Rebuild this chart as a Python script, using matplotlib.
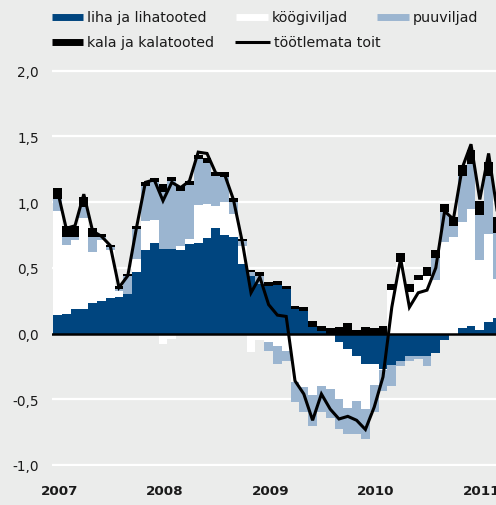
import matplotlib
matplotlib.use("Agg")
import matplotlib.pyplot as plt
from matplotlib.lines import Line2D
import numpy as np

# monthly data, Jan 2007 .. Mar 2011 (contribution, percentage points)
years = ["2007", "2008", "2009", "2010", "2011"]

liha = [0.14, 0.15, 0.19, 0.19, 0.23, 0.245, 0.27, 0.28, 0.30, 0.465, 0.635, 0.69,
        0.645, 0.645, 0.635, 0.68, 0.69, 0.725, 0.80, 0.75, 0.735, 0.53, 0.435, 0.38,
        0.365, 0.37, 0.34, 0.19, 0.17, 0.046, 0.02, 0.0, -0.065, -0.12, -0.17, -0.23,
        -0.23, -0.27, -0.24, -0.21, -0.17, -0.17, -0.17, -0.15, -0.05, 0.0, 0.04, 0.06,
        0.03, 0.09, 0.12]
kogiviljad = [0.79, 0.524, 0.519, 0.689, 0.387, 0.47, 0.367, 0.04, 0.0, 0.10, 0.223, 0.17,
              -0.08, -0.04, 0.033, 0.038, 0.284, 0.259, 0.172, 0.254, 0.177, 0.139, -0.14, -0.05,
              -0.067, -0.094, -0.13, -0.37, -0.41, -0.47, -0.40, -0.42, -0.433, -0.443, -0.341, -0.341,
              -0.164, -0.01, 0.333, 0.546, 0.313, 0.41, 0.44, 0.409, 0.693, 0.731, 0.81, 0.887,
              0.527, 0.664, 0.291]
puuviljad = [0.094, 0.058, 0.025, 0.084, 0.114, 0.02, 0.02, 0.02, 0.14, 0.228, 0.266, 0.291,
             0.43, 0.512, 0.418, 0.411, 0.35, 0.317, 0.223, 0.184, 0.085, 0.038, 0.03, 0.06,
             -0.063, -0.14, -0.076, -0.15, -0.19, -0.23, -0.20, -0.22, -0.228, -0.203, -0.253, -0.228,
             -0.20, -0.16, -0.157, -0.035, -0.037, -0.025, -0.08, 0.163, 0.228, 0.089, 0.35, 0.342,
             0.342, 0.443, 0.355]
kala = [0.084, 0.084, 0.084, 0.076, 0.069, 0.02, 0.015, 0.02, 0.012, 0.025, 0.03, 0.03,
        0.064, 0.032, 0.038, 0.033, 0.035, 0.038, 0.035, 0.038, 0.033, 0.015, 0.015, 0.025,
        0.025, 0.026, 0.02, 0.02, 0.032, 0.046, 0.04, 0.04, 0.05, 0.08, 0.025, 0.05,
        0.04, 0.055, 0.043, 0.063, 0.063, 0.035, 0.063, 0.065, 0.063, 0.063, 0.081, 0.11,
        0.11, 0.11, 0.12]
toit = [1.09, 0.80, 0.82, 1.06, 0.78, 0.74, 0.67, 0.35, 0.44, 0.81, 1.15, 1.17,
        1.01, 1.15, 1.11, 1.16, 1.38, 1.37, 1.22, 1.21, 1.02, 0.70, 0.31, 0.43,
        0.22, 0.14, 0.13, -0.36, -0.46, -0.66, -0.46, -0.575, -0.65, -0.63, -0.66, -0.73,
        -0.56, -0.33, 0.20, 0.57, 0.20, 0.31, 0.33, 0.50, 0.93, 0.87, 1.26, 1.44,
        1.02, 1.37, 0.92]

BG = "#ebeceb"
DARK = "#00457f"
LIGHT = "#9bb5d0"
W, H = 496, 506

fig = plt.figure(figsize=(W / 100, H / 100), dpi=100, facecolor=BG)
ax = fig.add_axes([52 / W, (H - 467.3) / H, 444 / W, 397 / H])
ax.set_facecolor(BG)

x = np.arange(len(liha))
pos_base = np.zeros(len(x))
neg_base = np.zeros(len(x))
series = [(liha, DARK), (kogiviljad, "white"), (puuviljad, LIGHT), (kala, "black")]
for vals, col in series:
    v = np.array(vals)
    base = np.where(v >= 0, pos_base, neg_base)
    ax.bar(x, v, bottom=base, width=1.0, color=col, linewidth=0, zorder=2)
    pos_base += np.where(v >= 0, v, 0)
    neg_base += np.where(v < 0, v, 0)

ax.plot(x, toit, color="black", lw=2.2, zorder=4, solid_joinstyle="miter")
ax.axhline(0, color="black", lw=1.8, zorder=3)

ax.set_xlim(-0.614, 49.84)
ax.set_ylim(-1.01, 2.01)
yt = [-1.0, -0.5, 0.0, 0.5, 1.0, 1.5, 2.0]
ax.set_yticks(yt)
ax.set_yticklabels([f"{t:.1f}".replace(".", ",") for t in yt], fontsize=9.8, color="#1a1a1a")
ax.yaxis.grid(True, color="white", lw=1.6)
ax.set_axisbelow(True)
ax.set_xticks(np.arange(0, 49, 12) + 0.2)
ax.set_xticklabels(years, fontsize=9.7, fontweight="bold", color="#1a1a1a")
ax.tick_params(axis="y", length=0, pad=9.4)
ax.tick_params(axis="x", length=0, pad=13)
for s in ax.spines.values():
    s.set_visible(False)


def legend_entry(x0, x1, y, text, color, lw, tx):
    fig.add_artist(Line2D([x0 / W, x1 / W], [1 - y / H, 1 - y / H], color=color, lw=lw,
                          solid_capstyle="butt", transform=fig.transFigure))
    fig.text(tx / W, 1 - y / H, text, va="center", ha="left", fontsize=10.3, color="#1a1a1a")


legend_entry(52, 83, 18.3, "liha ja lihatooted", DARK, 5, 87)
legend_entry(236, 268, 18.3, "köögiviljad", "white", 5, 272)
legend_entry(377, 409, 18.3, "puuviljad", LIGHT, 5, 413)
legend_entry(52, 83, 43, "kala ja kalatooted", "black", 5, 87)
legend_entry(235, 270, 43, "töötlemata toit", "black", 2.2, 274)

fig.savefig("out.png", dpi=100, facecolor=BG)
